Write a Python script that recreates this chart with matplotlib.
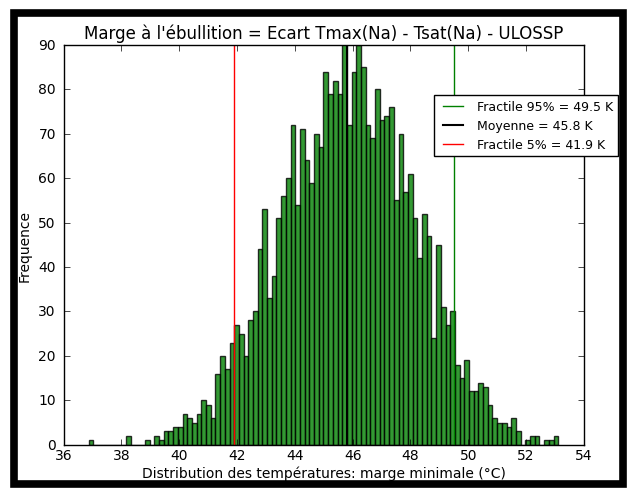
import matplotlib
matplotlib.use('Agg')
import matplotlib.pyplot as plt
import numpy as np
from matplotlib.patches import Rectangle

plt.style.use('classic')

# histogramme (100 classes)
x_min, x_max = 36.87, 53.11
counts = [1, 0, 0, 0, 0, 0, 0, 0, 2, 0,
          0, 0, 1, 0, 2, 1, 3, 3, 4, 4,
          7, 6, 5, 7, 10, 9, 6, 16, 20, 17,
          23, 27, 25, 20, 28, 30, 44, 53, 33, 38,
          51, 56, 60, 72, 54, 71, 64, 59, 70, 67,
          84, 79, 82, 79, 92, 72, 84, 90, 85, 72,
          69, 80, 73, 74, 76, 55, 70, 57, 61, 51,
          42, 52, 47, 24, 45, 31, 27, 30, 18, 15,
          19, 12, 12, 14, 13, 9, 6, 5, 5, 4,
          6, 3, 0, 1, 2, 2, 0, 1, 1, 2]

fractile_95 = 49.5
moyenne = 45.8
fractile_5 = 41.9

edges = np.linspace(x_min, x_max, len(counts) + 1)
centres = 0.5 * (edges[:-1] + edges[1:])

fig = plt.figure(figsize=(6.32, 4.89), dpi=100, facecolor='white')
ax = fig.add_axes([0.1005, 0.0885, 0.8235, 0.8175])

ax.hist(centres, bins=edges, weights=counts, color='g', alpha=0.8, edgecolor='black', linewidth=1)

ax.axvline(fractile_95, color='g', lw=1, label='Fractile 95%% = %.1f K' % fractile_95)
ax.axvline(moyenne, color='k', lw=1.5, label='Moyenne = %.1f K' % moyenne)
ax.axvline(fractile_5, color='r', lw=1, label='Fractile 5%% = %.1f K' % fractile_5)

ax.set_xlim(36, 54)
ax.set_ylim(0, 90)
ax.set_xticks(np.arange(36, 55, 2))
ax.set_yticks(np.arange(0, 91, 10))
ax.tick_params(labelsize=10)
ax.tick_params(axis='x', pad=2)
ax.tick_params(axis='y', pad=5.5)

ax.set_title("Marge à l'ébullition = Ecart Tmax(Na) - Tsat(Na) - ULOSSP", fontsize=12)
ax.set_xlabel("Distribution des températures: marge minimale (°C)", fontsize=10, labelpad=3)
ax.set_ylabel("Frequence", fontsize=10)

leg = ax.legend(loc='upper right', bbox_to_anchor=(1.065, 0.875), fontsize=9,
                fancybox=False, borderaxespad=0, handlelength=2.2)
leg.get_frame().set_edgecolor('black')

# cadre noir autour de la figure
fig.add_artist(Rectangle((0.0229, 0.0072), 0.9629, 0.9642, transform=fig.transFigure,
                         fill=False, edgecolor='black', linewidth=5.5, joinstyle='miter'))

fig.savefig('out.png', dpi=100, facecolor='white')
